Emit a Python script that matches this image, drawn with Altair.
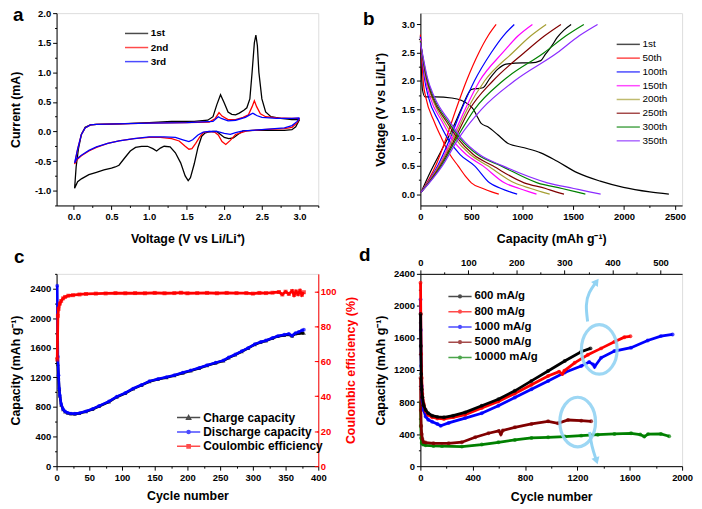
import altair as alt
import numpy as np
import pandas as pd

FONT = "Liberation Sans"
W, H = 264, 194

# ---------------- Panel a : cyclic voltammetry ----------------
A_NAMES = ["1st", "2nd", "3rd"]
A_COLORS = ["#000000", "#ff0000", "#0000ff"]
a1_v = [3.0, 2.95, 2.9, 2.8, 2.6, 2.4, 2.25, 2.18, 2.12, 2.06, 2.0, 1.95, 1.9, 1.85, 1.78, 1.74, 1.7, 1.65, 1.6, 1.55,
        1.52, 1.48, 1.42, 1.35, 1.28, 1.2, 1.15, 1.1, 1.05, 0.98, 0.9, 0.82, 0.75, 0.68, 0.6, 0.55, 0.5, 0.4, 0.3, 0.2,
        0.1, 0.05, 0.01,
        0.03, 0.06, 0.1, 0.15, 0.22, 0.3, 0.6, 1.0, 1.3, 1.6, 1.78, 1.85, 1.9, 1.95, 2.0, 2.05, 2.1, 2.15, 2.2, 2.26,
        2.3, 2.34, 2.37, 2.4, 2.42, 2.44, 2.46, 2.5, 2.55, 2.62, 2.75, 2.9, 3.0]
a1_i = [0.2, 0.08, 0.03, 0.02, 0.02, 0.02, 0.01, -0.05, -0.11, -0.12, -0.1, -0.05, 0.0, 0.0, -0.01, -0.03, -0.08, -0.27,
        -0.55, -0.78, -0.83, -0.75, -0.53, -0.36, -0.26, -0.25, -0.28, -0.33, -0.29, -0.25, -0.25, -0.27, -0.33, -0.44,
        -0.57, -0.6, -0.62, -0.65, -0.69, -0.73, -0.8, -0.85, -0.96,
        -0.6, -0.3, -0.05, 0.07, 0.11, 0.12, 0.13, 0.15, 0.17, 0.17, 0.19, 0.25, 0.45, 0.62, 0.48, 0.33, 0.29, 0.28,
        0.31, 0.36, 0.4, 0.55, 1.0, 1.5, 1.63, 1.45, 1.0, 0.55, 0.33, 0.25, 0.22, 0.2, 0.2]
a2_v = [3.0, 2.97, 2.9, 2.8, 2.5, 2.3, 2.15, 2.08, 2.02, 1.97, 1.92, 1.87, 1.8, 1.72, 1.67, 1.62, 1.57, 1.53, 1.48, 1.4,
        1.3, 1.15, 1.0, 0.8, 0.6, 0.45, 0.3, 0.2, 0.1, 0.04, 0.01,
        0.05, 0.1, 0.15, 0.22, 0.3, 0.6, 1.0, 1.5, 1.8, 1.88, 1.93, 1.97, 2.05, 2.15, 2.25, 2.32, 2.37, 2.4, 2.43, 2.48,
        2.55, 2.7, 2.9, 3.0]
a2_i = [0.22, 0.15, 0.07, 0.05, 0.03, 0.01, -0.05, -0.15, -0.22, -0.17, -0.06, -0.01, 0.0, -0.02, -0.1, -0.2, -0.29,
        -0.3, -0.25, -0.16, -0.12, -0.1, -0.1, -0.12, -0.16, -0.2, -0.27, -0.33, -0.41, -0.48, -0.55,
        -0.3, -0.05, 0.06, 0.11, 0.12, 0.13, 0.14, 0.15, 0.16, 0.22, 0.32, 0.26, 0.2, 0.2, 0.24, 0.28, 0.42, 0.52, 0.42,
        0.3, 0.25, 0.23, 0.22, 0.22]
a3_v = [3.0, 2.97, 2.9, 2.8, 2.5, 2.25, 2.15, 2.08, 2.0, 1.9, 1.8, 1.72, 1.65, 1.58, 1.53, 1.45, 1.35, 1.2, 1.0, 0.8,
        0.6, 0.45, 0.3, 0.2, 0.1, 0.04, 0.01,
        0.05, 0.1, 0.15, 0.22, 0.3, 1.0, 1.5, 1.85, 1.92, 1.96, 2.05, 2.15, 2.28, 2.35, 2.38, 2.43, 2.5, 2.7, 2.9, 3.0]
a3_i = [0.23, 0.17, 0.1, 0.06, 0.03, 0.01, -0.02, -0.05, -0.03, 0.0, 0.0, -0.01, -0.06, -0.14, -0.17, -0.14, -0.1,
        -0.09, -0.09, -0.12, -0.16, -0.2, -0.26, -0.32, -0.4, -0.46, -0.53,
        -0.3, -0.05, 0.06, 0.11, 0.12, 0.14, 0.15, 0.17, 0.25, 0.22, 0.18, 0.19, 0.24, 0.29, 0.31, 0.27, 0.24, 0.22,
        0.22, 0.23]

# ---------------- Panel b : charge / discharge profiles ----------------
B_NAMES = ["1st", "50th", "100th", "150th", "200th", "250th", "300th", "350th"]
B_COLORS = ["#000000", "#ff0000", "#0000ff", "#ff00ff", "#a69f33", "#800000", "#008000", "#8b2cff"]
b_dis_cap = [
    [0, 8, 20, 45, 150, 305, 400, 484, 520, 550, 597, 662, 760, 857, 1020, 1182, 1344, 1539, 1766, 1994, 2253, 2440],
    [0, 12, 30, 52, 136, 208, 290, 370, 450, 500, 614, 700, 770],
    [0, 15, 40, 78, 182, 266, 390, 532, 679, 792, 880, 950],
    [0, 17, 48, 94, 214, 305, 450, 614, 825, 971, 1070, 1140],
    [0, 19, 55, 110, 234, 338, 490, 662, 922, 1084, 1190, 1270],
    [0, 20, 60, 117, 257, 364, 520, 711, 1019, 1230, 1330, 1410],
    [0, 22, 65, 127, 273, 386, 560, 792, 1149, 1390, 1530, 1620],
    [0, 24, 70, 136, 289, 403, 580, 808, 1247, 1506, 1660, 1770],
]
b_dis_v = [
    [2.8, 2.3, 1.85, 1.72, 1.72, 1.70, 1.66, 1.57, 1.5, 1.40, 1.25, 1.19, 1.05, 0.90, 0.82, 0.73, 0.58, 0.38, 0.23, 0.12, 0.04, 0.0],
    [2.82, 2.45, 1.95, 1.72, 1.28, 0.99, 0.7, 0.5, 0.3, 0.2, 0.1, 0.04, 0.0],
    [2.78, 2.45, 2.05, 1.72, 1.28, 0.99, 0.7, 0.5, 0.2, 0.1, 0.04, 0.0],
    [2.75, 2.45, 2.05, 1.72, 1.28, 0.99, 0.7, 0.5, 0.2, 0.1, 0.04, 0.0],
    [2.72, 2.45, 2.05, 1.72, 1.28, 0.99, 0.7, 0.5, 0.2, 0.1, 0.04, 0.0],
    [2.7, 2.45, 2.05, 1.72, 1.28, 0.99, 0.7, 0.5, 0.2, 0.1, 0.04, 0.0],
    [2.7, 2.45, 2.05, 1.72, 1.28, 0.99, 0.7, 0.5, 0.2, 0.1, 0.04, 0.0],
    [2.68, 2.45, 2.05, 1.72, 1.28, 0.99, 0.7, 0.5, 0.2, 0.1, 0.04, 0.0],
]
b_chg_cap = [
    [6, 100, 200, 300, 400, 470, 500, 614, 679, 760, 841, 1000, 1084, 1182, 1230, 1290, 1344, 1410, 1480],
    [6, 150, 255, 350, 452, 574, 665, 744],
    [6, 170, 295, 405, 530, 695, 815, 922],
    [6, 180, 315, 440, 581, 808, 960, 1100],
    [6, 185, 330, 460, 630, 906, 1085, 1235],
    [6, 195, 345, 484, 711, 1019, 1220, 1380],
    [6, 205, 360, 532, 808, 1214, 1430, 1605],
    [6, 215, 380, 600, 922, 1344, 1560, 1740],
]
b_chg_v = [
    [0.03, 0.4, 0.75, 1.1, 1.5, 1.78, 1.85, 1.88, 2.04, 2.21, 2.30, 2.32, 2.32, 2.36, 2.48, 2.62, 2.77, 2.9, 3.0],
] + [[0.03, 0.5, 1.0, 1.5, 2.0, 2.5, 2.8, 3.0]] * 7

# ---------------- Panel c : long cycling at one rate ----------------
C_NAMES = ["Charge capacity", "Discharge capacity", "Coulombic efficiency"]
C_COLORS = ["#000000", "#0000ff", "#ff0000"]
c_cycle = [1, 2, 3, 4, 5, 7, 10, 13, 17, 22, 28, 35, 45, 55, 65, 80, 92, 105, 117, 130, 142, 155, 168, 180, 193,
           205, 218, 230, 243, 255, 263, 273, 283, 293, 303, 312, 320, 330, 338, 348, 355, 360, 365, 370, 375, 378]
c_discharge = [2440, 1480, 1230, 1050, 960, 840, 770, 740, 722, 712, 710, 718, 742, 775, 815, 875, 940, 990, 1050,
               1100, 1150, 1180, 1205, 1230, 1265, 1295, 1330, 1365, 1400, 1430, 1470, 1510, 1555, 1600, 1650, 1680,
               1700, 1735, 1760, 1778, 1790, 1765, 1800, 1815, 1835, 1845]
c_charge = [1480, 1380, 1200, 1040, 950, 830, 765, 735, 718, 708, 706, 714, 738, 770, 810, 870, 935, 985, 1045, 1095,
            1145, 1175, 1200, 1225, 1260, 1290, 1325, 1360, 1395, 1425, 1465, 1505, 1550, 1595, 1645, 1675, 1695,
            1730, 1755, 1770, 1780, 1760, 1790, 1795, 1800, 1800]
ce_cycle = [1, 2, 3, 5, 7, 10, 13, 18, 25, 35, 45, 60, 75, 90, 105, 120, 135, 150, 165, 180, 190, 200, 215, 230, 245,
            260, 275, 290, 300, 310, 320, 330, 340, 345, 350, 355, 360, 363, 366, 369, 372, 375, 378]
ce_value = [61, 86, 90, 93, 94.5, 96, 96.8, 97.5, 97.8, 98.2, 98.5, 98.7, 98.8, 99.0, 98.9, 99.0, 98.9, 99.1, 98.9,
            99.0, 99.2, 98.9, 99.0, 99.1, 98.9, 99.1, 99.0, 99.0, 98.7, 99.1, 99.0, 99.2, 99.6, 98.2, 99.8, 98.5,
            100.2, 97.9, 99.9, 98.4, 100.3, 98.0, 99.5]

# ---------------- Panel d : cycling at several current densities ----------------
D_NAMES = ["600 mA/g", "800 mA/g", "1000 mA/g", "5000 mA/g", "10000 mA/g"]
D_COLORS = ["#000000", "#ff0000", "#0000ff", "#800000", "#008000"]
d_cycle = [
    [1, 3, 6, 10, 15, 25, 40, 60, 90, 130, 180, 250, 342, 469, 596, 722, 849, 976, 1103, 1229, 1300],
    [1, 3, 6, 10, 15, 25, 40, 60, 90, 130, 180, 250, 342, 469, 596, 722, 849, 976, 1060, 1085, 1100, 1179, 1280,
     1381, 1483, 1559, 1605],
    [1, 3, 6, 10, 15, 25, 40, 60, 90, 130, 155, 216, 342, 469, 596, 722, 849, 976, 1103, 1229, 1290, 1320, 1331,
     1381, 1483, 1610, 1737, 1838, 1927],
    [1, 3, 6, 10, 15, 25, 40, 100, 216, 317, 419, 520, 600, 615, 630, 722, 849, 976, 1052, 1128, 1229, 1305],
    [1, 3, 6, 10, 20, 40, 100, 165, 317, 469, 596, 722, 849, 976, 1103, 1229, 1356, 1483, 1610, 1680, 1711, 1740,
     1838, 1901],
]
d_capacity = [
    [1900, 1500, 1150, 960, 860, 760, 700, 660, 630, 615, 610, 630, 671, 754, 836, 940, 1064, 1188, 1312, 1428, 1470],
    [2290, 1900, 1400, 1100, 900, 780, 690, 640, 610, 595, 590, 610, 642, 725, 808, 907, 1015, 1126, 1180, 1150,
     1190, 1290, 1390, 1470, 1553, 1610, 1620],
    [2080, 1700, 1250, 1000, 830, 700, 620, 580, 555, 525, 505, 540, 600, 660, 754, 857, 961, 1064, 1168, 1250, 1300,
     1270, 1240, 1353, 1436, 1478, 1569, 1623, 1644],
    [1100, 700, 500, 400, 340, 300, 295, 285, 285, 299, 361, 411, 440, 400, 445, 485, 527, 560, 535, 576, 568, 560],
    [800, 500, 350, 290, 270, 260, 252, 250, 244, 270, 298, 327, 352, 360, 369, 381, 393, 402, 410, 395, 369, 400,
     402, 373],
]
# guide ellipses and arrows drawn in panel d (cycle, capacity)
ell_cycle = [1367, 1202]
ell_cap = [1457, 551]
arr1_cycle = [1278, 1262, 1285, 1346]
arr1_cap = [1806, 2018, 2167, 2304]
arr2_cycle = [1293, 1308, 1346]
arr2_cap = [427, 253, 66]

PANEL_LABELS = ["a", "b", "c", "d"]


# ---------------- helpers ----------------
def axis(vmin, vmax, major, minor, fmt, title, orient, color="black", title_x=None, title_y=None,
         labels=True, domain=True, ticks=True, offset=None, tick_len=(4, 2), label_pad=2):
    n0 = int(np.ceil(vmin / minor - 1e-9))
    n1 = int(np.floor(vmax / minor + 1e-9))
    vals = [round(k * minor, 6) for k in range(n0, n1 + 1)]
    test = f"abs(datum.value/{major} - round(datum.value/{major})) < 1e-6"
    kw = dict(
        values=vals, title=title, orient=orient,
        labelExpr=f"{test} ? replace(format(datum.value, '{fmt}'), '\u2212', '-') : ''",
        tickSize={"condition": {"test": test, "value": tick_len[0]}, "value": tick_len[1]},
        labelOverlap=False, labelFlush=False, grid=False, labels=labels, domain=domain, ticks=ticks,
        labelFont=FONT, labelFontSize=9.5, labelFontWeight="bold", labelColor=color, labelPadding=label_pad,
        titleFont=FONT, titleFontSize=12.5, titleFontWeight="bold", titleColor=color,
        tickColor=color, domainColor=color, tickWidth=1, domainWidth=1,
    )
    if offset is not None:
        kw["offset"] = offset
    if title is not None:
        if orient in ("left", "right"):
            kw.update(titleX=title_x, titleY=H / 2, titleAngle=270, titleBaseline="middle", titleAlign="center")
        else:
            kw.update(titleX=W / 2, titleY=title_y, titleAngle=0, titleBaseline="alphabetic", titleAlign="center")
    return alt.Axis(**kw)


def legend(x, y, path, size, font_size, weight, row_pad, label_offset):
    return alt.Legend(title=None, orient="none", legendX=x, legendY=y, symbolType=path, symbolSize=size,
                      symbolStrokeWidth=1.5, labelFont=FONT, labelFontSize=font_size, labelFontWeight=weight,
                      labelColor="black", rowPadding=row_pad, labelOffset=label_offset, padding=0)


def carrier(key, names, colors, leg, fill=False, shapes=None):
    df = pd.DataFrame({key: names})
    enc = dict(stroke=alt.Stroke(f"{key}:N", scale=alt.Scale(domain=names, range=colors), legend=leg,
                                 sort=names))
    if fill:
        enc["fill"] = alt.Fill(f"{key}:N", scale=alt.Scale(domain=names, range=colors), legend=leg, sort=names)
    if shapes is not None:
        enc["shape"] = alt.Shape(f"{key}:N", scale=alt.Scale(domain=names, range=shapes), legend=leg, sort=names)
    return alt.Chart(df).transform_filter("false").mark_point(filled=False, strokeWidth=1.5).encode(**enc)


def panel_label(text, x, y):
    return alt.Chart(pd.DataFrame({"t": [text]})).mark_text(
        align="left", baseline="alphabetic", font=FONT, fontSize=19, fontWeight="bold", color="black"
    ).encode(text="t:N", x=alt.value(x), y=alt.value(y))


LINE_PATH = "M-1,0L4.2,0"

# ---------------- panel a ----------------
rows = []
for name, col, vs, cs in zip(A_NAMES, A_COLORS, [a1_v, a2_v, a3_v], [a1_i, a2_i, a3_i]):
    for k, (v, c) in enumerate(zip(vs, cs)):
        rows.append({"series": name, "clr": col, "v": v, "i": c, "k": k})
df_a = pd.DataFrame(rows)
xa = alt.X("v:Q", scale=alt.Scale(domain=[-0.23, 3.25], nice=False, zero=False),
           axis=axis(-0.23, 3.25, 0.5, 0.25, ".1f", "Voltage (V vs Li/Li\u207a)", "bottom", title_y=37))
ya = alt.Y("i:Q", scale=alt.Scale(domain=[-1.25, 2.0], nice=False, zero=False),
           axis=axis(-1.25, 2.0, 0.5, 0.25, ".1f", "Current (mA)", "left", title_x=-41))
a_lines = alt.Chart(df_a).mark_line(strokeWidth=1.3).encode(
    x=xa, y=ya, color=alt.Color("clr:N", scale=None), detail="series:N", order="k:Q")
a_leg = carrier("sa", A_NAMES, A_COLORS, legend(68, 15, LINE_PATH, 81, 10, "bold", 3.2, 16))
panel_a = alt.layer(a_lines, a_leg, panel_label(PANEL_LABELS[0], -44, 8)).properties(width=W, height=H)

# ---------------- panel b ----------------
rows = []
for name, col, dc, dv, cc, cv in zip(B_NAMES, B_COLORS, b_dis_cap, b_dis_v, b_chg_cap, b_chg_v):
    for k, (x, y) in enumerate(zip(dc, dv)):
        rows.append({"series": name, "branch": name + "d", "clr": col, "cap": x, "v": y, "k": k})
    for k, (x, y) in enumerate(zip(cc, cv)):
        rows.append({"series": name, "branch": name + "c", "clr": col, "cap": x, "v": y, "k": k})
df_b = pd.DataFrame(rows)
xb = alt.X("cap:Q", scale=alt.Scale(domain=[0, 2570], nice=False, zero=False),
           axis=axis(0, 2570, 500, 250, "d", "Capacity (mAh g\u207b\u00b9)", "bottom", title_y=37))
yb = alt.Y("v:Q", scale=alt.Scale(domain=[-0.2, 3.2], nice=False, zero=False),
           axis=axis(-0.2, 3.2, 0.5, 0.25, ".1f", "Voltage (V vs Li/Li\u207a)", "left", title_x=-40))
b_lines = alt.Chart(df_b).mark_line(strokeWidth=1.2, interpolate="monotone").encode(
    x=xb, y=yb, color=alt.Color("clr:N", scale=None), detail="branch:N", order="k:Q")
b_leg = carrier("sb", B_NAMES, B_COLORS, legend(197, 26, LINE_PATH, 81, 10, "normal", 2.9, 16))
panel_b = alt.layer(b_lines, b_leg, panel_label(PANEL_LABELS[1], -58, 12)).properties(width=W, height=H)

# ---------------- panel c ----------------
df_cap = pd.DataFrame({"cycle": c_cycle * 2,
                       "cap": c_charge + c_discharge,
                       "series": [C_NAMES[0]] * len(c_cycle) + [C_NAMES[1]] * len(c_cycle)})
df_ce = pd.DataFrame({"cycle": ce_cycle, "ce": ce_value})
xc = alt.X("cycle:Q", scale=alt.Scale(domain=[0, 400], nice=False, zero=False),
           axis=axis(0, 400, 50, 25, "d", "Cycle number", "bottom", title_y=34))
yc = alt.Y("cap:Q", scale=alt.Scale(domain=[0, 2600], nice=False, zero=False),
           axis=axis(0, 2600, 400, 200, "d", "Capacity (mAh g\u207b\u00b9)", "left", title_x=-41))
ce_scale = alt.Scale(domain=[0, 110], nice=False, zero=False)
yce = alt.Y("ce:Q", scale=ce_scale,
            axis=axis(0, 110, 20, 10, "d", "Coulombic efficiency (%)", "right", color="#ff0000",
                      title_x=33, ticks=False, label_pad=2))
chg = df_cap[df_cap.series == C_NAMES[0]]
dis = df_cap[df_cap.series == C_NAMES[1]]
c_chg_line = alt.Chart(chg).mark_line(strokeWidth=2.6, color="#000000").encode(x=xc, y=yc)
c_chg_pts = alt.Chart(chg).mark_point(shape="triangle-up", filled=True, size=16, color="#000000").encode(x=xc, y=yc)
c_dis_line = alt.Chart(dis).mark_line(strokeWidth=2.6, color="#0000ff").encode(x=xc, y=yc)
c_dis_pts = alt.Chart(dis).mark_point(shape="circle", filled=True, size=14, color="#0000ff").encode(x=xc, y=yc)
C_SHAPES = [
    "M-1,0L4.2,0M1.6,-0.45L2.05,0.35L1.15,0.35Z",
    "M-1,0L4.2,0M1.95,0A0.35,0.35 0 1,1 1.25,0A0.35,0.35 0 1,1 1.95,0Z",
    "M-1,0L4.2,0M1.25,-0.35L1.95,-0.35L1.95,0.35L1.25,0.35Z",
]
c_leg = carrier("sc", C_NAMES, C_COLORS, legend(120, 139, LINE_PATH, 81, 12, "bold", 2.5, 16), fill=True,
                shapes=C_SHAPES)
cap_layer = alt.layer(c_chg_line, c_chg_pts, c_dis_line, c_dis_pts, c_leg, panel_label(PANEL_LABELS[2], -43, -11))
ce_line = alt.Chart(df_ce).mark_line(strokeWidth=2.8, color="#ff0000").encode(x=xc, y=yce)
ce_pts = alt.Chart(df_ce).mark_point(shape="square", filled=True, size=16, color="#ff0000").encode(x=xc, y=yce)
ce_layer = alt.layer(ce_line, ce_pts)
# inward-pointing ticks of the right (efficiency) axis
df_tick = pd.DataFrame({"cycle": [0], "ce": [0]})
ce_major = alt.Chart(df_tick).mark_point(opacity=0).encode(
    x=xc,
    y=alt.Y("ce:Q", scale=ce_scale, axis=axis(0, 110, 20, 20, "d", None, "right", color="#ff0000",
                                              labels=False, domain=False, offset=-4, tick_len=(4, 4))))
ce_minor = alt.Chart(df_tick).mark_point(opacity=0).encode(
    x=xc,
    y=alt.Y("ce:Q", scale=ce_scale, axis=axis(10, 110, 20, 20, "d", None, "right", color="#ff0000",
                                              labels=False, domain=False, offset=-2, tick_len=(2, 2))))
panel_c = alt.layer(cap_layer, ce_layer, ce_major, ce_minor).resolve_scale(y="independent").properties(
    width=W, height=H)

# ---------------- panel d ----------------
rows = []
for name, col, cy, cp in zip(D_NAMES, D_COLORS, d_cycle, d_capacity):
    for k, (x, y) in enumerate(zip(cy, cp)):
        rows.append({"series": name, "clr": col, "cycle": x, "cap": y, "k": k})
df_d = pd.DataFrame(rows)
xd = alt.X("cycle:Q", scale=alt.Scale(domain=[0, 2000], nice=False, zero=False),
           axis=axis(0, 2000, 400, 200, "d", "Cycle number", "bottom", title_y=35))
yd = alt.Y("cap:Q", scale=alt.Scale(domain=[0, 2400], nice=False, zero=False),
           axis=axis(0, 2400, 400, 200, "d", "Capacity (mAh g\u207b\u00b9)", "left", title_x=-40))
d_layers = []
for name in D_NAMES[::-1]:
    sub = df_d[df_d.series == name]
    d_layers.append(alt.Chart(sub).mark_line(strokeWidth=2.8).encode(
        x=xd, y=yd, color=alt.Color("clr:N", scale=None), order="k:Q"))
    d_layers.append(alt.Chart(sub).mark_point(shape="circle", filled=True, size=16).encode(
        x=xd, y=yd, color=alt.Color("clr:N", scale=None)))
ELL = "M0.72,0A0.72,1 0 1,1 -0.72,0A0.72,1 0 1,1 0.72,0Z"
df_ell = pd.DataFrame({"cycle": ell_cycle, "cap": ell_cap})
d_ell = alt.Chart(df_ell).mark_point(shape=ELL, size=2500, filled=False, strokeWidth=3.2, color="#93d3f3",
                                     opacity=0.9).encode(x=xd, y=yd)
df_a1 = pd.DataFrame({"cycle": arr1_cycle, "cap": arr1_cap, "k": range(len(arr1_cycle))})
df_a2 = pd.DataFrame({"cycle": arr2_cycle, "cap": arr2_cap, "k": range(len(arr2_cycle))})
d_arr1 = alt.Chart(df_a1).mark_line(strokeWidth=3, color="#93d3f3", interpolate="basis").encode(x=xd, y=yd, order="k:Q")
d_arr2 = alt.Chart(df_a2).mark_line(strokeWidth=3, color="#93d3f3", interpolate="basis").encode(x=xd, y=yd, order="k:Q")
d_head1 = alt.Chart(df_a1.tail(1)).mark_point(shape="triangle-up", filled=True, size=70, angle=36,
                                              color="#93d3f3", opacity=1).encode(x=xd, y=yd)
d_head2 = alt.Chart(df_a2.tail(1)).mark_point(shape="triangle-up", filled=True, size=70, angle=162,
                                              color="#93d3f3", opacity=1).encode(x=xd, y=yd)
D_PATH = "M-1,0L4.2,0M1.9,0A0.3,0.3 0 1,1 1.3,0A0.3,0.3 0 1,1 1.9,0Z"
d_leg = carrier("sd", D_NAMES, D_COLORS, legend(27, 17, D_PATH, 81, 11.5, "bold", 2.4, 16), fill=True)
main_d = alt.layer(*d_layers, d_ell, d_arr1, d_arr2, d_head1, d_head2, d_leg,
                   panel_label(PANEL_LABELS[3], -62, -13))
top_d = alt.Chart(pd.DataFrame({"t": [0]})).mark_point(opacity=0).encode(
    x=alt.X("t:Q", scale=alt.Scale(domain=[0, 545], nice=False, zero=False),
            axis=axis(0, 545, 100, 50, "d", None, "top")))
panel_d = alt.layer(main_d, top_d).resolve_scale(x="independent").properties(width=W, height=H)

chart = alt.concat(panel_a, panel_b, panel_c, panel_d, columns=2,
                   spacing={"row": 0, "column": 0}).resolve_scale(
    stroke="independent", fill="independent", shape="independent"
).resolve_legend(stroke="independent", fill="independent", shape="independent").properties(
    padding={"left": 1, "top": -5, "right": 0, "bottom": 0}
).configure_view(stroke="black", strokeWidth=1).configure(font=FONT)

chart.save("out.html", embed_options={"renderer": "svg", "actions": False})
